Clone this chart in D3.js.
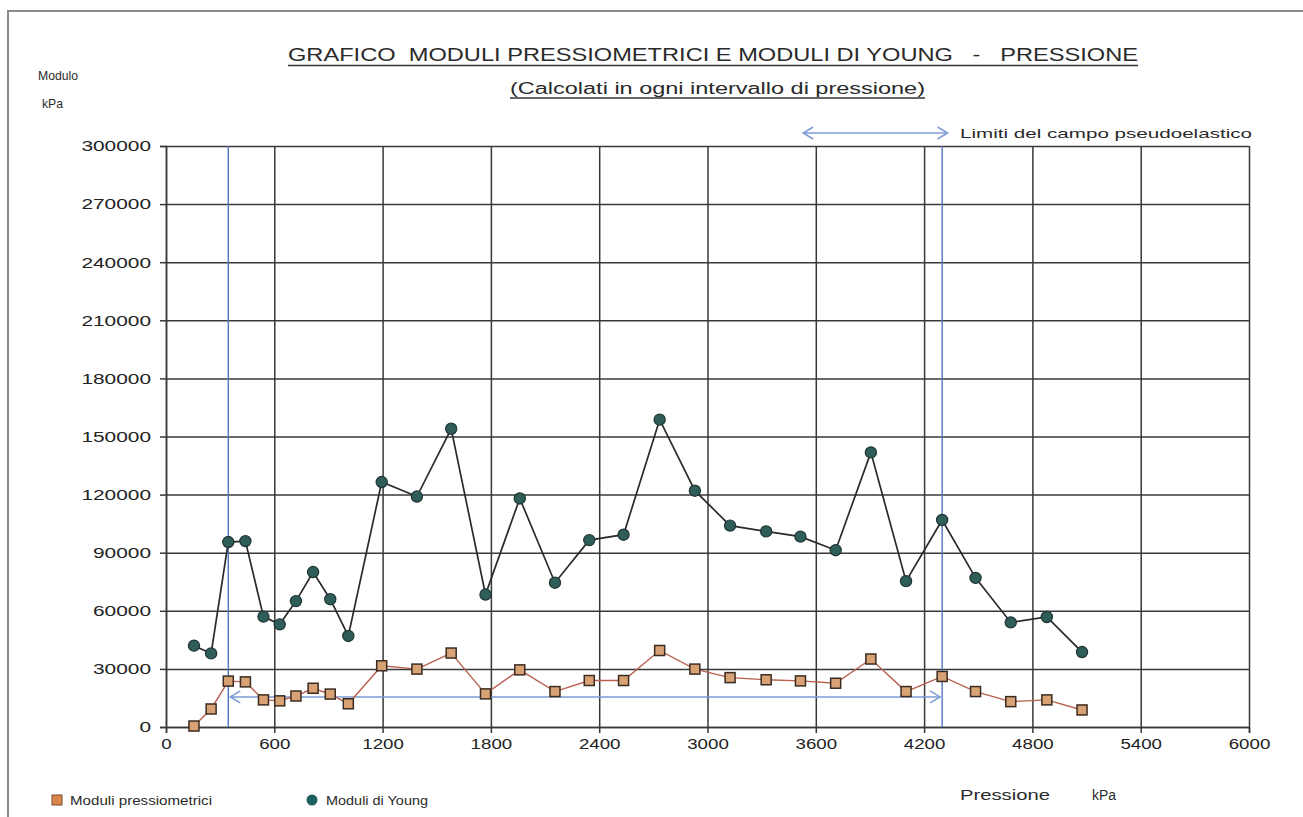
<!DOCTYPE html>
<html><head><meta charset="utf-8">
<script src="https://cdn.jsdelivr.net/npm/d3@7"></script>
<style>
html,body{margin:0;padding:0;background:#fff;}
svg{display:block;font-family:"Liberation Sans",Arial,sans-serif;}
</style></head>
<body>
<svg id="c" width="1303" height="817"></svg>
<script>
// ---- data ----
const pressure = [155,250,345,440,540,630,720,815,910,1010,1195,1390,1580,1770,1960,2155,2345,2535,2735,2930,3125,3325,3515,3710,3905,4100,4300,4485,4680,4880,5075];
const youngModuli = [42000,38000,95500,96000,57000,53000,65000,80000,66000,47000,126500,119000,154000,68400,118000,74500,96500,99300,158700,122000,104000,101000,98300,91300,141800,75300,106900,77000,54000,56800,38700];
const pressioModuli = [500,9300,23700,23300,14000,13500,16000,20000,17000,12000,31600,29900,38200,17100,29500,18300,24000,24000,39500,29900,25500,24400,23800,22600,35100,18300,26100,18300,13100,14000,8800];
const xTicks = [0,600,1200,1800,2400,3000,3600,4200,4800,5400,6000];
const yTicks = [0,30000,60000,90000,120000,150000,180000,210000,240000,270000,300000];
const elasticLimits = [345,4300];      // kPa, vertical limit lines
const limitArrowLevel = 15500;         // kPa, horizontal arrow between limits
const legendArrow = [3530,4330];       // kPa span of the legend arrow above the plot
const titleText = "GRAFICO  MODULI PRESSIOMETRICI E MODULI DI YOUNG   -   PRESSIONE";
const subtitleText = "(Calcolati in ogni intervallo di pressione)";
const seriesNames = ["Moduli pressiometrici","Moduli di Young"];

// ---- layout ----
const L=166,R=1249,T=146,B=727;
const svg=d3.select("#c");
const x=d3.scaleLinear().domain([0,6000]).range([L,R]);
const y=d3.scaleLinear().domain([0,300000]).range([B,T]);
const gridCol="#383838", blue="#4f74bd", arrowBlue="#7d9bd6";

// page frame
svg.append("path").attr("d","M8,817 L8,11 L1303,11").attr("fill","none").attr("stroke","#8a8a8a").attr("stroke-width",2);

// grid
const gy=svg.append("g").attr("transform",`translate(${L},0)`)
  .call(d3.axisLeft(y).tickValues(yTicks).tickSizeInner(-(R-L)).tickSizeOuter(0).tickFormat(""));
gy.select(".domain").remove();
gy.selectAll("line").attr("stroke",gridCol).attr("stroke-width",1.5);
const gx=svg.append("g").attr("transform",`translate(0,${B})`)
  .call(d3.axisBottom(x).tickValues(xTicks).tickSizeInner(-(B-T)).tickSizeOuter(0).tickFormat(""));
gx.select(".domain").remove();
gx.selectAll("line").attr("stroke",gridCol).attr("stroke-width",1.5);

// labeled axes
const ay=svg.append("g").attr("transform",`translate(${L},0)`)
  .call(d3.axisLeft(y).tickValues(yTicks).tickSize(6).tickPadding(9).tickFormat(d3.format("d")));
ay.select(".domain").attr("stroke",gridCol).attr("stroke-width",1.5);
ay.selectAll("line").attr("stroke",gridCol).attr("stroke-width",1.5);
ay.selectAll("text").attr("font-size",15).attr("fill","#222").attr("font-family","Liberation Sans, Arial")
  .attr("textLength",d=>String(d).length*11.6).attr("lengthAdjust","spacingAndGlyphs");
const ax=svg.append("g").attr("transform",`translate(0,${B})`)
  .call(d3.axisBottom(x).tickValues(xTicks).tickSize(6).tickPadding(6).tickFormat(d3.format("d")));
ax.select(".domain").attr("stroke",gridCol).attr("stroke-width",1.5);
ax.selectAll("line").attr("stroke",gridCol).attr("stroke-width",1.5);
ax.selectAll("text").attr("font-size",14).attr("fill","#222").attr("font-family","Liberation Sans, Arial")
  .attr("textLength",d=>String(d).length*10.4).attr("lengthAdjust","spacingAndGlyphs");

// limit lines
svg.selectAll(".lim").data(elasticLimits).join("line").attr("class","lim")
  .attr("x1",d=>x(d)).attr("x2",d=>x(d)).attr("y1",T).attr("y2",B)
  .attr("stroke",blue).attr("stroke-width",1.4);

function dblArrow(x1,x2,yy,col){
  const g=svg.append("g").attr("stroke",col).attr("stroke-width",1.5).attr("fill","none");
  g.append("line").attr("x1",x1).attr("x2",x2).attr("y1",yy).attr("y2",yy);
  g.append("path").attr("d",`M${x1+10},${yy-6} L${x1},${yy} L${x1+10},${yy+6}`);
  g.append("path").attr("d",`M${x2-10},${yy-6} L${x2},${yy} L${x2-10},${yy+6}`);
}
dblArrow(x(elasticLimits[0])+2,x(elasticLimits[1])-2,y(limitArrowLevel),arrowBlue);
dblArrow(x(legendArrow[0]),x(legendArrow[1]),133,arrowBlue);

// series lines
const pts1=pressure.map((p,i)=>[p,pressioModuli[i]]);
const pts2=pressure.map((p,i)=>[p,youngModuli[i]]);
const line=d3.line().x(d=>x(d[0])).y(d=>y(d[1]));
svg.append("path").datum(pts2).attr("d",line).attr("fill","none").attr("stroke","#2a2a2a").attr("stroke-width",1.7);
svg.append("path").datum(pts1).attr("d",line).attr("fill","none").attr("stroke","#b85f4e").attr("stroke-width",1.4);

// markers
svg.selectAll(".yc").data(pts2).join("circle").attr("class","yc")
  .attr("cx",d=>x(d[0])).attr("cy",d=>y(d[1])).attr("r",5.6)
  .attr("fill","#2f5d58").attr("stroke","#1f3533").attr("stroke-width",1.2);
svg.selectAll(".ps").data(pts1).join("rect").attr("class","ps")
  .attr("x",d=>x(d[0])-5).attr("y",d=>y(d[1])-5).attr("width",10).attr("height",10)
  .attr("fill","#d9a274").attr("stroke","#3a2c22").attr("stroke-width",1.5);

// texts
function txt(s,xx,yy,size,len,anchor){
  return svg.append("text").attr("x",xx).attr("y",yy).attr("font-size",size).attr("fill","#2a2a2a")
    .attr("text-anchor",anchor||"start").style("white-space","pre")
    .attr("textLength",len).attr("lengthAdjust","spacingAndGlyphs").text(s);
}
txt(titleText,288,61,17.5,850);
svg.append("line").attr("x1",288).attr("x2",1138).attr("y1",65.5).attr("y2",65.5).attr("stroke","#333").attr("stroke-width",1.3);
txt(subtitleText,510,94,16,415);
svg.append("line").attr("x1",510).attr("x2",925).attr("y1",98).attr("y2",98).attr("stroke","#333").attr("stroke-width",1.3);
txt("Modulo",38,80,13,40);
txt("kPa",42,108,13,21);
txt("Limiti del campo pseudoelastico",960,138,13.5,292);
txt("Pressione",960,800,14,90);
txt("kPa",1092,800,14,24);

// legend
svg.append("rect").attr("x",52).attr("y",795).attr("width",10).attr("height",10)
  .attr("fill","#d9874a").attr("stroke","#7a4a2a").attr("stroke-width",1);
txt(seriesNames[0],70,805,13.5,142);
svg.append("circle").attr("cx",312).attr("cy",800).attr("r",5.5).attr("fill","#1f5f5e");
txt(seriesNames[1],326,805,13.5,102);
</script>
</body></html>
